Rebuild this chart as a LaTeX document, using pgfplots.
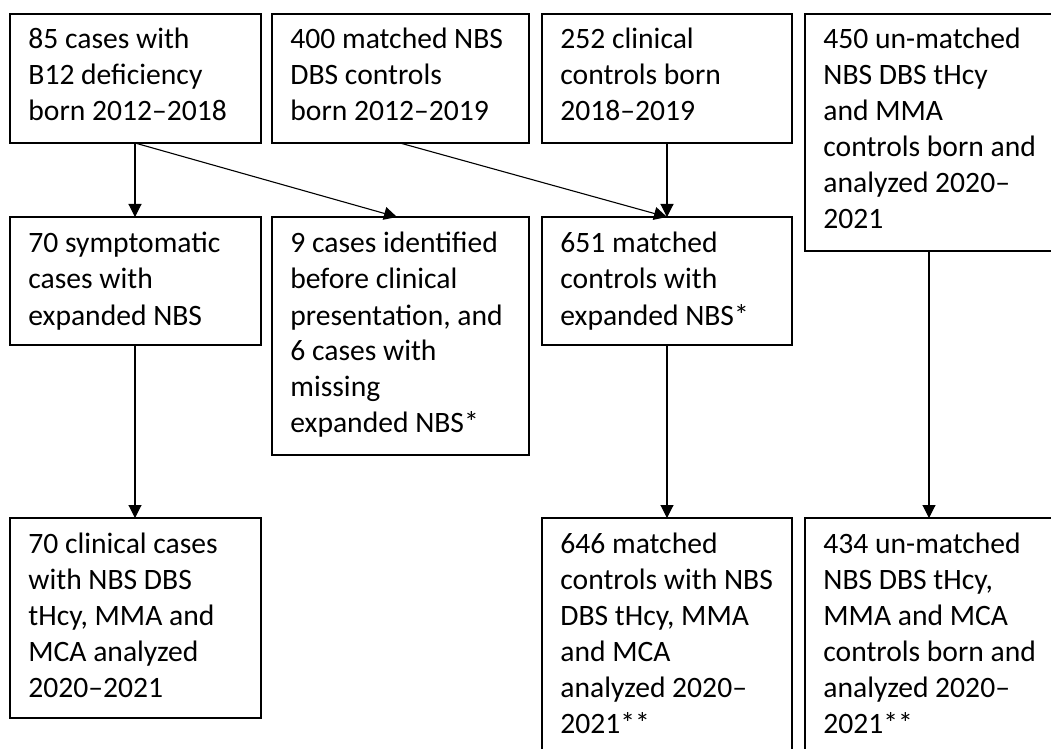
\documentclass[border=0pt]{standalone}
\usepackage{pgfplots}
\pgfplotsset{compat=1.18}
\usepackage{fontspec}
\setmainfont{Carlito}
\usetikzlibrary{arrows.meta}
\newcommand{\fs}{\fontsize{14.8}{18}\selectfont}
\tikzset{
  box/.style={black, line width=0.9pt, line cap=rect, line join=miter},
  arr/.style={black, line width=0.55pt, -{Triangle[length=6.5pt,width=6.5pt]}},
  txt/.style={anchor=base west, inner sep=0pt, font=\fs},
}
\begin{document}
\begin{tikzpicture}
\begin{axis}[
  scale only axis, width=525.5pt, height=374.5pt,
  xmin=0, xmax=1051, ymin=0, ymax=749, y dir=reverse,
  hide axis, clip=true,
]
% boxes
\addplot[box, mark=none] coordinates {(10,14) (261,14) (261,143) (10,143) (10,14)};
\addplot[box, mark=none] coordinates {(272,14) (529,14) (529,143) (272,143) (272,14)};
\addplot[box, mark=none] coordinates {(542,14) (792,14) (792,143) (542,143) (542,14)};
\addplot[box, mark=none] coordinates {(805,14) (1060,14) (1060,251) (805,251) (805,14)};
\addplot[box, mark=none] coordinates {(10,217) (261,217) (261,345) (10,345) (10,217)};
\addplot[box, mark=none] coordinates {(272,217) (529,217) (529,455) (272,455) (272,217)};
\addplot[box, mark=none] coordinates {(542,217) (792,217) (792,345) (542,345) (542,217)};
\addplot[box, mark=none] coordinates {(10,518) (261,518) (261,718) (10,718) (10,518)};
\addplot[box, mark=none] coordinates {(542,518) (792,518) (792,770) (542,770) (542,518)};
\addplot[box, mark=none] coordinates {(805,518) (1060,518) (1060,770) (805,770) (805,518)};
% arrows
\addplot[arr, mark=none] coordinates {(135,143) (135,217)};
\addplot[arr, mark=none] coordinates {(135,143) (397,217)};
\addplot[arr, mark=none] coordinates {(400,143) (667,217)};
\addplot[arr, mark=none] coordinates {(667,143) (667,217)};
\addplot[arr, mark=none] coordinates {(135,345) (135,518)};
\addplot[arr, mark=none] coordinates {(667,345) (667,518)};
\addplot[arr, mark=none] coordinates {(929,251) (929,518)};
% texts
\node[txt] at (axis cs:28,49) {\begin{tabular}[t]{@{}l@{}}85 cases with\\B12 deficiency\\born 2012--2018\end{tabular}};
\node[txt] at (axis cs:290,49) {\begin{tabular}[t]{@{}l@{}}400 matched NBS\\DBS controls\\born 2012--2019\end{tabular}};
\node[txt] at (axis cs:560,49) {\begin{tabular}[t]{@{}l@{}}252 clinical\\controls born\\2018--2019\end{tabular}};
\node[txt] at (axis cs:823,49) {\begin{tabular}[t]{@{}l@{}}450 un-matched\\NBS DBS tHcy\\and MMA\\controls born and\\analyzed 2020--\\2021\end{tabular}};
\node[txt] at (axis cs:28,253) {\begin{tabular}[t]{@{}l@{}}70 symptomatic\\cases with\\expanded NBS\end{tabular}};
\node[txt] at (axis cs:290,253) {\begin{tabular}[t]{@{}l@{}}9 cases identified\\before clinical\\presentation, and\\6 cases with\\missing\\expanded NBS*\end{tabular}};
\node[txt] at (axis cs:560,253) {\begin{tabular}[t]{@{}l@{}}651 matched\\controls with\\expanded NBS*\end{tabular}};
\node[txt] at (axis cs:28,553) {\begin{tabular}[t]{@{}l@{}}70 clinical cases\\with NBS DBS\\tHcy, MMA and\\MCA analyzed\\2020--2021\end{tabular}};
\node[txt] at (axis cs:560,553) {\begin{tabular}[t]{@{}l@{}}646 matched\\controls with NBS\\DBS tHcy, MMA\\and MCA\\analyzed 2020--\\2021**\end{tabular}};
\node[txt] at (axis cs:823,553) {\begin{tabular}[t]{@{}l@{}}434 un-matched\\NBS DBS tHcy,\\MMA and MCA\\controls born and\\analyzed 2020--\\2021**\end{tabular}};
\coordinate (BL) at (axis cs:0,749);
\coordinate (TR) at (axis cs:1051,0);
\end{axis}
\pgfresetboundingbox
\path[use as bounding box] (BL) rectangle (TR);
\end{tikzpicture}
\end{document}
